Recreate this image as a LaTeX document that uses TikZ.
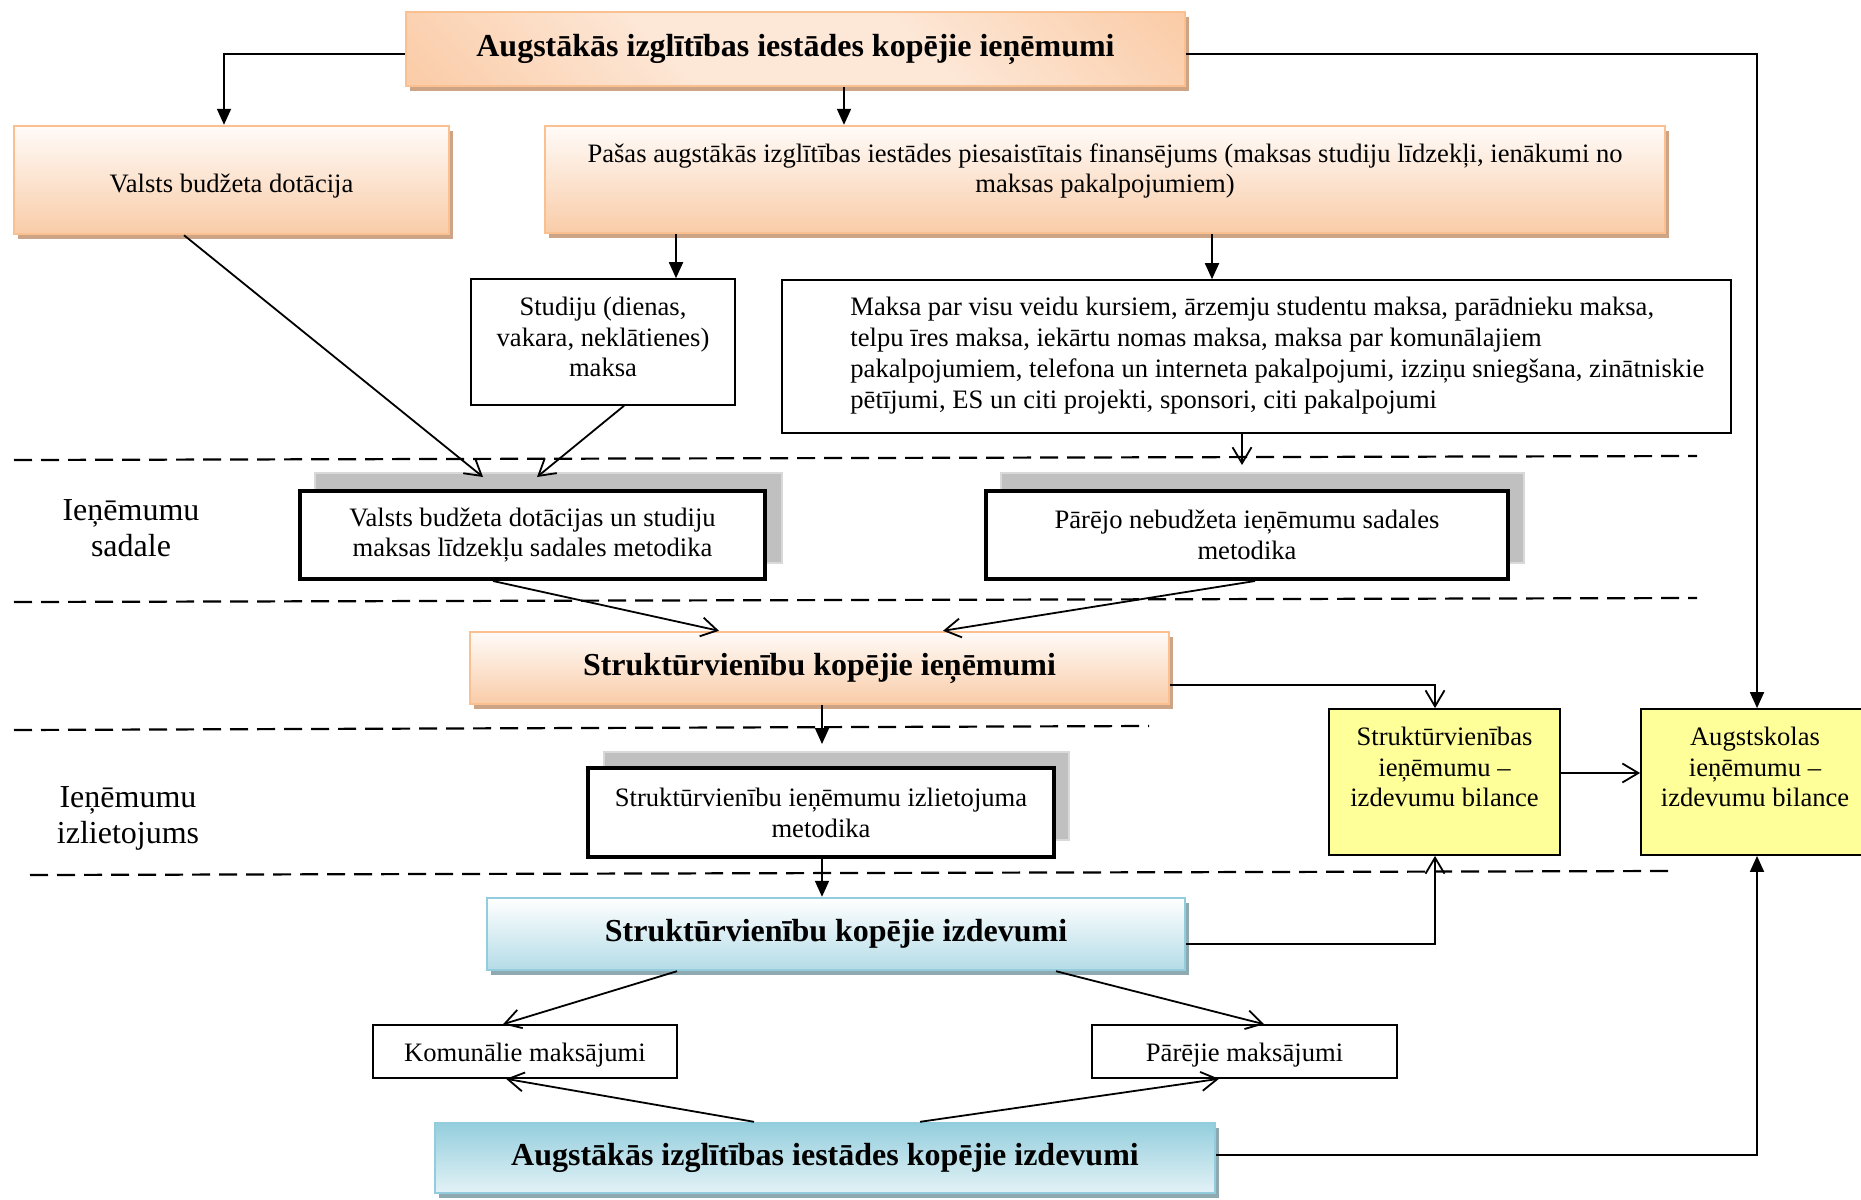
\documentclass[tikz,border=0pt]{standalone}
\usepackage{fontspec}
\setmainfont{Liberation Serif}
\usetikzlibrary{arrows.meta,calc,shadows}
\definecolor{oB}{HTML}{FAC090}
\definecolor{oTop}{HTML}{FFFBF8}
\definecolor{oBot}{HTML}{F9CCA8}
\definecolor{oDk}{HTML}{F9BB8A}
\definecolor{oLt}{HTML}{FDE8D8}
\definecolor{oS}{HTML}{CDA486}
\definecolor{bB}{HTML}{93CDDD}
\definecolor{bTop}{HTML}{FFFFFF}
\definecolor{bBot}{HTML}{B4DCE7}
\definecolor{bDk}{HTML}{94CEDD}
\definecolor{bLt}{HTML}{E3F2F6}
\definecolor{bS}{HTML}{8EA9B0}
\definecolor{yel}{HTML}{FFFF99}
\definecolor{gF}{HTML}{C0C0C0}
\definecolor{gB}{HTML}{D9D9D9}
\pgfdeclarehorizontalshading{odiag}{100bp}{color(0bp)=(oDk); color(40bp)=(oLt); color(60bp)=(oLt); color(100bp)=(oDk)}
\begin{document}
\begin{tikzpicture}[x=0.5pt,y=-0.5pt,
  sz/.style 2 args={minimum width=#1*0.5pt, minimum height=#2*0.5pt},
  nt/.style={font=\fontsize{13.3}{15.4}\selectfont, align=center},
  bt/.style={font=\fontsize{16}{18}\selectfont\bfseries, align=center},
  lt/.style={font=\fontsize{16}{18}\selectfont, align=center, inner sep=0pt},
  txt/.style={font=\fontsize{13.3}{15.4}\selectfont, inner sep=0pt},
  oshadow/.style={drop shadow={shadow xshift=2pt, shadow yshift=-2.5pt, fill=oS, opacity=1}},
  bshadow/.style={drop shadow={shadow xshift=2pt, shadow yshift=-2.5pt, fill=bS, opacity=1}},
  obox/.style={draw=oB, line width=1.2pt, top color=oTop, bottom color=oBot, oshadow, inner sep=0pt},
  otitle/.style={draw=oB, line width=1.2pt, shading=odiag, shading angle=45, oshadow, inner sep=0pt},
  bbox/.style={draw=bB, line width=1.2pt, top color=bTop, bottom color=bBot, bshadow, inner sep=0pt},
  btitle/.style={draw=bB, line width=1.2pt, top color=bDk, bottom color=bLt, bshadow, inner sep=0pt},
  wbox/.style={draw=black, line width=0.8pt, fill=white, inner sep=0pt},
  gbox/.style={draw=gB, line width=0.8pt, fill=gF, inner sep=0pt},
  mbox/.style={draw=black, line width=2pt, fill=white, inner sep=0pt},
  ybox/.style={draw=black, line width=0.9pt, fill=yel, inner sep=0pt},
  fa/.style={-{Triangle[length=8pt,width=7pt]}, line width=0.9pt},
  oa/.style={-{Straight Barb[length=8pt,width=9.5pt]}, line width=0.9pt},
  dl/.style={dash pattern=on 9pt off 4.5pt, line width=1.1pt}
]
\useasboundingbox (0,0) rectangle (1861,1199);
\clip (0,0) rectangle (1861,1199);

% dashed separators
\draw[dl] (14,460) -- (1697,456);
\draw[dl] (14,602) -- (1697,598);
\draw[dl] (14,730) -- (1149,726);
\draw[dl] (30,875) -- (1668,871);

% side labels
\node[lt] (l1) at (131,528) {Ieņēmumu\\sadale};
\node[lt] (l2) at (128,818) {Ieņēmumu\\izlietojums};

% boxes
\node[otitle, sz={779}{74}, bt] (inc) at (795.5,49) {Augstākās izglītības iestādes kopējie ieņēmumi};
\node[obox, sz={435}{108}, nt, text height=13pt, text depth=1pt] (valsts) at (231.5,180) {Valsts budžeta dotācija};
\node[obox, sz={1120}{107}] (pasas) at (1105,179.5) {};
\node[txt, align=center] (pasast) at (1105,171) {Pašas augstākās izglītības iestādes piesaistītais finansējums (maksas studiju līdzekļi, ienākumi no\\maksas pakalpojumiem)};

\node[wbox, sz={264}{126}] (studiju) at (603,342) {};
\node[txt, align=center] (studijut) at (603,337) {Studiju (dienas,\\vakara, neklātienes)\\maksa};

\node[wbox, sz={949}{153}] (maksa) at (1256.5,356.5) {};
\node[txt, align=left, anchor=west] (maksat) at (850,355.5) {Maksa par visu veidu kursiem, ārzemju studentu maksa, parādnieku maksa,\\telpu īres maksa, iekārtu nomas maksa, maksa par komunālajiem\\pakalpojumiem, telefona un interneta pakalpojumi, izziņu sniegšana, zinātniskie\\pētījumi, ES un citi projekti, sponsori, citi pakalpojumi};

\node[gbox, sz={467}{90}] (g1) at (548.5,518) {};
\node[mbox, sz={465}{88}, nt] (vbm) at (532.5,535) {Valsts budžeta dotācijas un studiju\\maksas līdzekļu sadales metodika};
\node[gbox, sz={523}{90}] (g2) at (1262.5,518) {};
\node[mbox, sz={522}{88}, nt] (pnm) at (1247,535) {Pārējo nebudžeta ieņēmumu sadales\\metodika};

\node[obox, sz={699}{72}, bt] (ski) at (819.5,668) {Struktūrvienību kopējie ieņēmumi};

\node[gbox, sz={465}{88}] (g3) at (836.5,796) {};
\node[mbox, sz={466}{89}, nt] (sim) at (821,812.5) {Struktūrvienību ieņēmumu izlietojuma\\metodika};

\node[bbox, sz={698}{72}, bt] (skz) at (836,934) {Struktūrvienību kopējie izdevumi};
\node[wbox, sz={304}{53}, nt, text height=11pt, text depth=1pt] (kom) at (525,1051.5) {Komunālie maksājumi};
\node[wbox, sz={305}{53}, nt, text height=11pt, text depth=1pt] (par) at (1244.5,1051.5) {Pārējie maksājumi};
\node[btitle, sz={780}{70}, bt] (aiz) at (825,1158) {Augstākās izglītības iestādes kopējie izdevumi};

\node[ybox, sz={231}{146}] (y1) at (1444.5,782) {};
\node[txt, align=center] (y1t) at (1444.5,767) {Struktūrvienības\\ieņēmumu –\\izdevumu bilance};
\node[ybox, sz={228}{146}] (y2) at (1755,782) {};
\node[txt, align=center] (y2t) at (1755,767) {Augstskolas\\ieņēmumu –\\izdevumu bilance};

% connectors
\draw[fa] ($(inc.west)+(0,5)$) -| ($(valsts.north)+(-7.5,0)$);
\draw[fa] ($(inc.south)+(48.5,0)$) -- ($(pasas.north)+(-261,0)$);
\draw[fa] ($(pasas.south)+(-429,0)$) -- ($(studiju.north)+(73,0)$);
\draw[fa] ($(pasas.south)+(107,0)$) -- ($(maksa.north)+(-44.5,0)$);
\draw[oa] ($(valsts.south)+(-47.5,0)$) -- ($(vbm.north)+(-49.5,-12)$);
\draw[oa] ($(studiju.south)+(21,0)$) -- ($(vbm.north)+(4.5,-12)$);
\draw[oa] ($(maksa.south)+(-14.5,0)$) -- ($(pnm.north)+(-5,-24)$);
\draw[oa] ($(vbm.south)+(-39.5,0)$) -- ($(ski.north)+(-100.5,0)$);
\draw[oa] ($(pnm.south)+(8,0)$) -- ($(ski.north)+(123.5,0)$);
\draw[oa] ($(ski.east)+(0,17)$) -| ($(y1.north)+(-9.5,0)$);
\draw[fa] ($(ski.south)+(2.5,0)$) -- ($(sim.north)+(1,-22)$);
\draw[fa] ($(sim.south)+(1,0)$) -- ($(skz.north)+(-14,0)$);
\draw[oa] ($(skz.east)+(0,10)$) -| ($(y1.south)+(-9.5,0)$);
\draw[oa] ($(y1.east)+(0,-9)$) -- ($(y2.west)+(0,-9)$);
\draw[fa] ($(inc.east)+(0,5)$) -| ($(y2.north)+(2,0)$);
\draw[fa] ($(aiz.east)+(0,-3)$) -| ($(y2.south)+(2,0)$);
\draw[oa] ($(skz.south)+(-159,0)$) -- ($(kom.north)+(-22,0)$);
\draw[oa] ($(skz.south)+(220,0)$) -- ($(par.north)+(19.5,0)$);
\draw[oa] ($(aiz.north)+(-71,0)$) -- ($(kom.south)+(-19,0)$);
\draw[oa] ($(aiz.north)+(95,0)$) -- ($(par.south)+(-25.5,0)$);
\end{tikzpicture}
\end{document}
